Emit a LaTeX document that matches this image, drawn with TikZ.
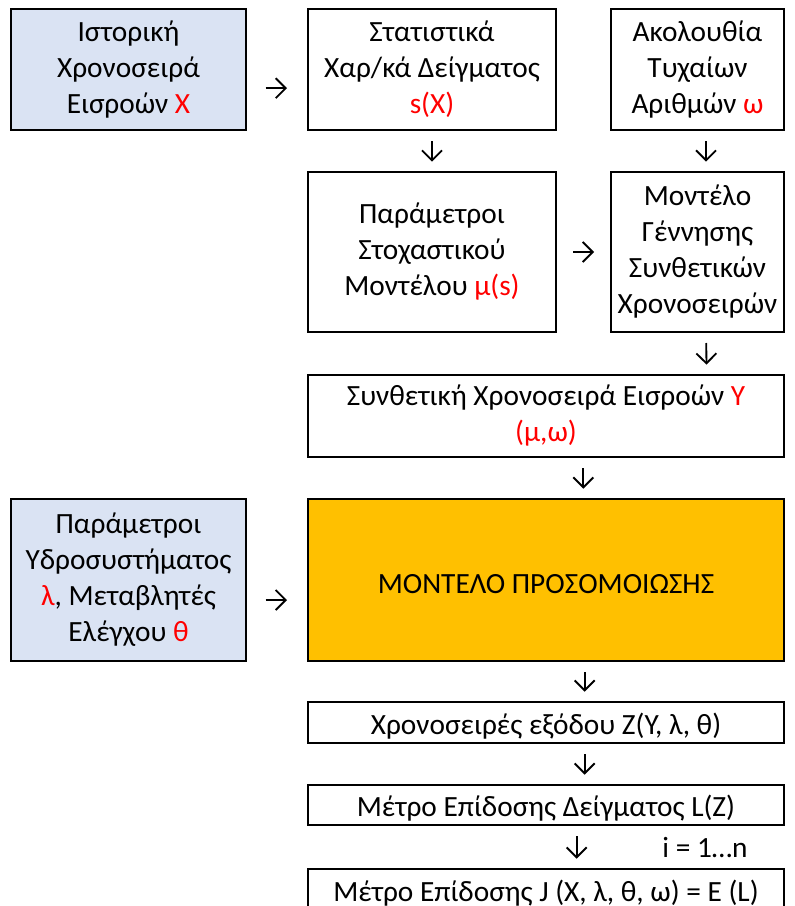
\documentclass[tikz,border=0pt]{standalone}
\usepackage{fontspec}
\setmainfont{Carlito}
\usetikzlibrary{arrows.meta}
\definecolor{inblue}{HTML}{DAE3F3}
\definecolor{simorange}{HTML}{FFC000}
\definecolor{varred}{HTML}{FF0000}
\newcommand{\rv}[1]{\textcolor{varred}{#1}}
\tikzset{
  box/.style={draw=black, line width=1.5pt, align=center, inner sep=0pt,
    font=\fontsize{22}{27}\selectfont,
    execute at begin node={\rule{0pt}{21pt}}},
  lbl/.style={inner sep=0pt, font=\fontsize{22}{27}\selectfont},
  arr/.style={-{Straight Barb[length=7.5pt,width=15pt]}, line width=1.4pt},
  harr/.style={arr, shorten <=14pt, shorten >=15pt},
  varr/.style={arr, shorten <=7.5pt, shorten >=7pt}
}

\begin{document}
\begin{tikzpicture}[x=0.75pt,y=-0.75pt]
                \useasboundingbox (0,0) rectangle (794,906);
                \node[box,fill=inblue,minimum width=176.25pt,minimum height=90.75pt] (hist) at (128.5,69.5) {Ιστορική\\Χρονοσειρά\\Εισροών \rv{X}};
                \node[box,minimum width=186pt,minimum height=90.75pt] (stat) at (432,69.5) {Στατιστικά\\Χαρ/κά Δείγματος\\\rv{s(X)}};
                \node[box,minimum width=129.75pt,minimum height=90.75pt] (rand) at (697.5,69.5) {Ακολουθία\\Τυχαίων\\Αριθμών \rv{ω}};
                \node[box,minimum width=186pt,minimum height=120pt] (par) at (432,252) {Παράμετροι\\Στοχαστικού\\Μοντέλου \rv{μ(s)}};
                \node[box,minimum width=129.75pt,minimum height=120pt] (gen) at (697.5,252) {Μοντέλο\\Γέννησης\\Συνθετικών\\Χρονοσειρών};
                \node[box,minimum width=357pt,minimum height=61.5pt] (syn) at (546,416) {Συνθετική Χρονοσειρά Εισροών \rv{Y}\\\rv{(μ,ω)}};
                \node[box,fill=inblue,minimum width=176.25pt,minimum height=121.5pt] (hyd) at (128.5,580) {Παράμετροι\\Υδροσυστήματος\\\rv{λ}, Μεταβλητές\\Ελέγχου \rv{θ}};
                \node[box,fill=simorange,minimum width=357pt,minimum height=121.5pt] (sim) at (546,580) {ΜΟΝΤΕΛΟ ΠΡΟΣΟΜΟΙΩΣΗΣ};
                \node[box,minimum width=357pt,minimum height=30.75pt] (out) at (546,722.5) {Χρονοσειρές εξόδου Z(Y, λ, θ)};
                \node[box,minimum width=357pt,minimum height=30pt] (perf) at (546,805) {Μέτρο Επίδοσης Δείγματος L(Z)};
                \node[box,minimum width=357pt,minimum height=30.75pt] (exp) at (546,889.5) {Μέτρο Επίδοσης J (X, λ, θ, ω) = E (L)};
                \node[lbl] (iter) at (705,848) {i = 1…n};
                \draw[harr] ([yshift=-14pt]hist.east) -- ([yshift=-14pt]stat.west);
                \draw[arr, shorten <=12pt, shorten >=12pt] (par) -- (gen);
                \draw[harr] ([yshift=-15pt]hyd.east) -- ([yshift=-15pt]sim.west);
                \draw[varr] (stat) -- (par);
                \draw[varr] ([xshift=6.4pt]rand.south) -- ([xshift=6.4pt]gen.north);
                \draw[varr] ([xshift=6.4pt]gen.south) -- ([xshift=120.5pt]syn.north);
                \draw[varr] ([xshift=28pt]syn.south) -- ([xshift=28pt]sim.north);
                \draw[varr] ([xshift=29pt]sim.south) -- ([xshift=29pt]out.north);
                \draw[varr] ([xshift=29pt]out.south) -- ([xshift=29pt]perf.north);
                \draw[varr] ([xshift=23pt]perf.south) -- ([xshift=23pt]exp.north);
            \end{tikzpicture}
\end{document}
